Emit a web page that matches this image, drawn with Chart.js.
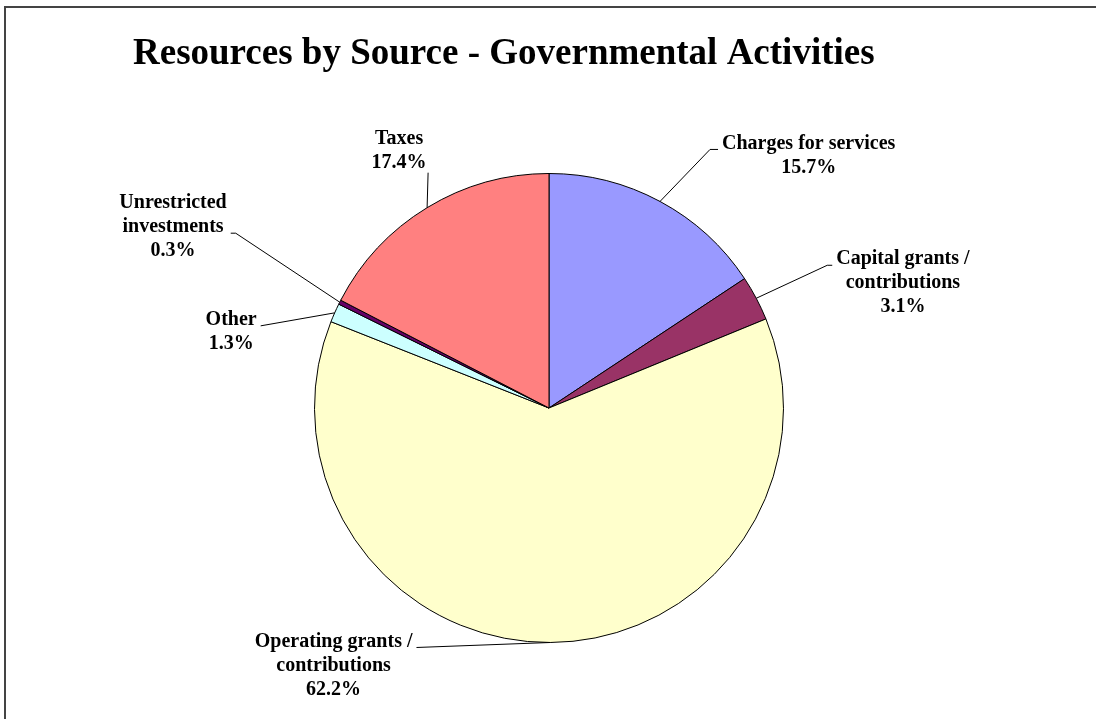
<!DOCTYPE html>
<html>
<head>
<meta charset="utf-8">
<title>Resources by Source - Governmental Activities</title>
<script src="https://cdn.jsdelivr.net/npm/chart.js@4/dist/chart.umd.min.js"></script>
<style>
    html, body { margin: 0; padding: 0; background: #fff; }
    #wrap { width: 1096px; height: 719px; position: relative; }
</style>
</head>
<body>
<div id="wrap"><canvas id="pieChart" width="1096" height="719"></canvas></div>
<script>
// Chart data
const chartTitle = 'Resources by Source - Governmental Activities';
const categories = [
    'Charges for services',
    'Capital grants / contributions',
    'Operating grants / contributions',
    'Other',
    'Unrestricted investments',
    'Taxes'
];
const shares = [15.7, 3.1, 62.2, 1.3, 0.3, 17.4];
// how each label is broken into lines
const labelLines = [
    ['Charges for services'],
    ['Capital grants /', 'contributions'],
    ['Operating grants /', 'contributions'],
    ['Other'],
    ['Unrestricted', 'investments'],
    ['Taxes']
];
const sliceColors = ['#9999FF', '#993366', '#FFFFCC', '#CCFFFF', '#660066', '#FF8080'];

// Leader line layout: elbow offset from the arc point, tail, side, line index at elbow
const leaderLayout = [
    { dx: 50, dy: -52, tail: 8, side: 'right', lineAt: 0 },
    { dx: 71, dy: -33, tail: 5, side: 'right', lineAt: 0 },
    { dx: -134, dy: 5, tail: 0, side: 'left', lineAt: 0 },
    { dx: -74, dy: 13, tail: 0, side: 'left', lineAt: 0 },
    { dx: -104, dy: -69, tail: 5, side: 'left', lineAt: 1 },
    { dx: 1, dy: -35, tail: 0, side: 'top', shiftX: -29 }
];

const LABEL_FONT = 'bold 20px "Liberation Serif", "Times New Roman", serif';
const LINE_H = 24;

// Frame and title
const framePlugin = {
    id: 'frame',
    beforeDraw(chart) {
        const ctx = chart.ctx;
        ctx.save();
        ctx.fillStyle = '#fff';
        ctx.fillRect(0, 0, chart.width, chart.height);
        ctx.strokeStyle = '#444';
        ctx.lineWidth = 2;
        ctx.beginPath();
        ctx.moveTo(5, chart.height + 2);
        ctx.lineTo(5, 7);
        ctx.lineTo(chart.width + 2, 7);
        ctx.stroke();

        ctx.fillStyle = '#000';
        ctx.font = 'bold 37px "Liberation Serif", "Times New Roman", serif';
        ctx.textBaseline = 'alphabetic';
        ctx.textAlign = 'left';
        ctx.fillText(chartTitle, 133, 64);
        ctx.restore();
    }
};

// Data labels with leader lines
const leaderLabels = {
    id: 'leaderLabels',
    afterDatasetsDraw(chart) {
        const ctx = chart.ctx;
        const meta = chart.getDatasetMeta(0);
        ctx.save();
        ctx.font = LABEL_FONT;
        ctx.fillStyle = '#000';
        ctx.strokeStyle = '#000';
        ctx.lineWidth = 1;
        ctx.textBaseline = 'middle';
        ctx.textAlign = 'center';

        meta.data.forEach((arc, i) => {
            const mid = (arc.startAngle + arc.endAngle) / 2;
            const ax = arc.x + Math.cos(mid) * arc.outerRadius;
            const ay = arc.y + Math.sin(mid) * arc.outerRadius;
            const lay = leaderLayout[i];
            const ex = ax + lay.dx;
            const ey = ay + lay.dy;
            const lines = labelLines[i].concat([shares[i].toFixed(1) + '%']);
            const blockW = Math.max(...lines.map(l => ctx.measureText(l).width));

            let tx = ex;
            ctx.beginPath();
            ctx.moveTo(ax, ay);
            ctx.lineTo(ex, ey);
            if (lay.side === 'right') {
                ctx.lineTo(ex + lay.tail, ey);
                tx = ex + lay.tail + 4 + blockW / 2;
            } else if (lay.side === 'left') {
                ctx.lineTo(ex - lay.tail, ey);
                tx = ex - lay.tail - 4 - blockW / 2;
            }
            ctx.stroke();

            let firstY;
            if (lay.side === 'top') {
                tx = ex + lay.shiftX;
                firstY = ey - 10 - (lines.length - 1) * LINE_H;
            } else {
                firstY = ey - 6 - lay.lineAt * LINE_H;
            }
            lines.forEach((l, k) => {
                ctx.fillText(l, tx, firstY + k * LINE_H);
            });
        });
        ctx.restore();
    }
};

new Chart(document.getElementById('pieChart'), {
    type: 'pie',
    data: {
        labels: categories,
        datasets: [{
            data: shares,
            backgroundColor: sliceColors,
            borderColor: '#000',
            borderWidth: 1
        }]
    },
    options: {
        responsive: false,
        animation: false,
        layout: {
            padding: { left: 314, right: 312, top: 173, bottom: 76 }
        },
        plugins: {
            legend: { display: false },
            title: { display: false },
            tooltip: { enabled: false }
        }
    },
    plugins: [framePlugin, leaderLabels]
});
</script>
</body>
</html>
